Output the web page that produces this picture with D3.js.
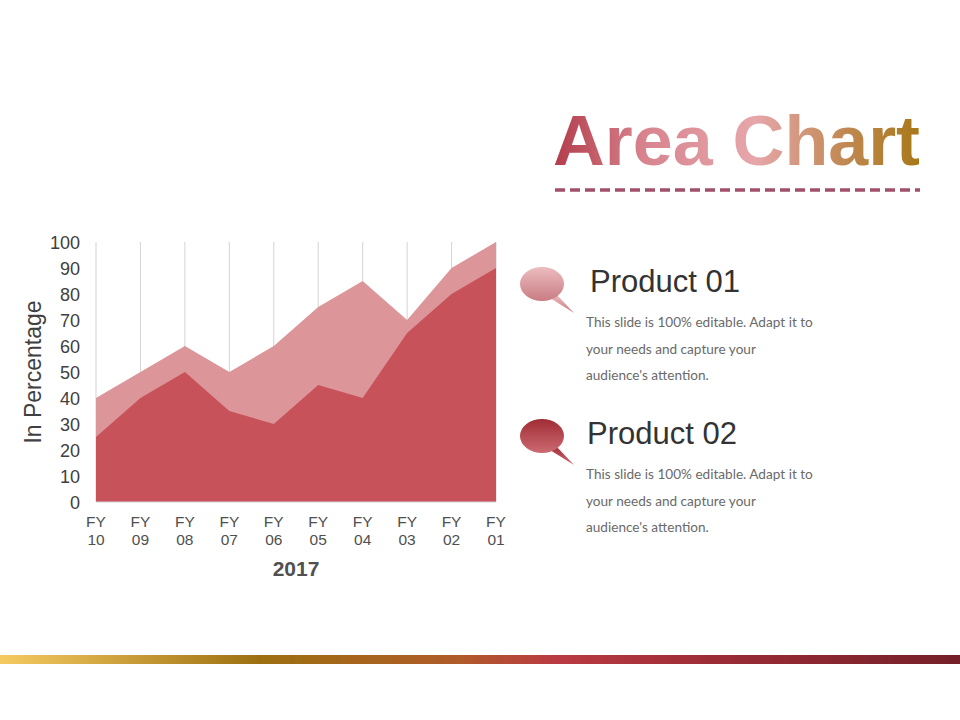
<!DOCTYPE html>
<html><head><meta charset="utf-8">
<script src="https://cdn.jsdelivr.net/npm/d3@7"></script>
<style>html,body{margin:0;padding:0;background:#fff;}svg{display:block;}</style>
</head><body><svg id="c" width="960" height="720"></svg>
<script>
const categories = ["FY 10","FY 09","FY 08","FY 07","FY 06","FY 05","FY 04","FY 03","FY 02","FY 01"];
const product01 = [40, 50, 60, 50, 60, 75, 85, 70, 90, 100];
const product02 = [25, 40, 50, 35, 30, 45, 40, 65, 80, 90];
const yTicks = [0,10,20,30,40,50,60,70,80,90,100];
const seriesNames = ["Product 01","Product 02"];
const bodyLines = ["This slide is 100% editable. Adapt it to","your needs and capture your","audience's attention."];

const svg = d3.select("#c");
const defs = svg.append("defs");

const tg = defs.append("linearGradient").attr("id","titleGrad").attr("gradientUnits","userSpaceOnUse")
  .attr("x1",553).attr("x2",920).attr("y1",0).attr("y2",0);
[["0%","#b23c4a"],["25%","#d8848e"],["55%","#e6a6aa"],["80%","#c08850"],["100%","#a87818"]].forEach(s=>tg.append("stop").attr("offset",s[0]).attr("stop-color",s[1]));
const bg = defs.append("linearGradient").attr("id","barGrad").attr("x1","0").attr("x2","1");
[["0%","#f6ca62"],["27%","#9c7010"],["48%","#b05a2a"],["58%","#ba3a42"],["75%","#9a2c36"],["100%","#742028"]].forEach(s=>bg.append("stop").attr("offset",s[0]).attr("stop-color",s[1]));
const b1 = defs.append("linearGradient").attr("id","b1").attr("x1","0").attr("x2","0").attr("y1","0").attr("y2","1");
b1.append("stop").attr("offset","0%").attr("stop-color","#ecbcbe");
b1.append("stop").attr("offset","100%").attr("stop-color","#c97c84");
const b2 = defs.append("linearGradient").attr("id","b2").attr("x1","0").attr("x2","0").attr("y1","0").attr("y2","1");
b2.append("stop").attr("offset","0%").attr("stop-color","#a02c34");
b2.append("stop").attr("offset","100%").attr("stop-color","#cc6a72");

svg.append("text").attr("x",553).attr("y",165).attr("font-family","Liberation Sans, Arial, sans-serif")
  .attr("font-weight","bold").attr("font-size",70).attr("fill","url(#titleGrad)")
  .attr("textLength",367).attr("lengthAdjust","spacingAndGlyphs").text("Area Chart");
svg.append("line").attr("x1",555).attr("x2",920).attr("y1",190).attr("y2",190)
  .attr("stroke","#a05068").attr("stroke-width",3.5).attr("stroke-dasharray","10,5");

const x = d3.scalePoint().domain(categories).range([96,496]);
const y = d3.scaleLinear().domain([0,100]).range([502,242]);
const g = svg.append("g");
g.selectAll("line.grid").data(categories).join("line").attr("class","grid")
  .attr("x1",d=>x(d)).attr("x2",d=>x(d)).attr("y1",242).attr("y2",502)
  .attr("stroke","#d4d4d4").attr("stroke-width",1);

const area = vals => d3.area().x((d,i)=>x(categories[i])).y0(y(0)).y1(d=>y(d))(vals);
g.append("path").attr("d",area(product01)).attr("fill","#dc9598");
g.append("path").attr("d",area(product02)).attr("fill","#c8525a");
g.append("line").attr("x1",96).attr("x2",496).attr("y1",502).attr("y2",502).attr("stroke","#d0d0d0");

const ya = d3.axisLeft(y).tickValues(yTicks).tickSize(0).tickPadding(0);
const yg = g.append("g").attr("transform","translate(80,0)").call(ya);
yg.select(".domain").remove();
yg.selectAll("text").attr("font-family","Liberation Sans, Arial, sans-serif").attr("font-size",18).attr("fill","#404040").attr("dy","0.35em");

const xg = g.append("g");
categories.forEach(c=>{
  const parts = c.split(" ");
  const t = xg.append("text").attr("x",x(c)).attr("y",527).attr("text-anchor","middle")
    .attr("font-family","Liberation Sans, Arial, sans-serif").attr("font-size",15.5).attr("fill","#505050");
  t.append("tspan").attr("x",x(c)).text(parts[0]);
  t.append("tspan").attr("x",x(c)).attr("dy",18).text(parts[1]);
});
svg.append("text").attr("x",296).attr("y",576).attr("text-anchor","middle").attr("font-family","Liberation Sans, Arial, sans-serif")
  .attr("font-weight","bold").attr("font-size",21).attr("fill","#505050").text("2017");
svg.append("text").attr("transform","translate(41,372) rotate(-90)").attr("text-anchor","middle")
  .attr("font-family","Liberation Sans, Arial, sans-serif").attr("font-size",23).attr("fill","#404040").text("In Percentage");

function bubble(cx,cy,fill){
  const p = d3.path();
  p.moveTo(cx+8,cy+14); p.lineTo(cx+32,cy+29); p.lineTo(cx+14,cy+10); p.closePath();
  svg.append("path").attr("d",p.toString()).attr("fill",fill);
  svg.append("ellipse").attr("cx",cx).attr("cy",cy).attr("rx",22).attr("ry",17).attr("fill",fill);
}
bubble(542,284,"url(#b1)");
bubble(542,436,"url(#b2)");
const legY = [292,444];
seriesNames.forEach((n,i)=>{
  svg.append("text").attr("x",i===0?590:587).attr("y",legY[i]).attr("font-family","Liberation Sans, Arial, sans-serif")
    .attr("font-size",31).attr("fill","#333").text(n);
  bodyLines.forEach((l,j)=>{
    svg.append("text").attr("x",586).attr("y",legY[i]+35+j*26.5).attr("font-family","Lato, Open Sans, sans-serif")
      .attr("font-size",13.6).attr("fill","#6a6a6a").text(l);
  });
});

svg.append("rect").attr("x",0).attr("y",655).attr("width",960).attr("height",9).attr("fill","url(#barGrad)");
</script></body></html>
